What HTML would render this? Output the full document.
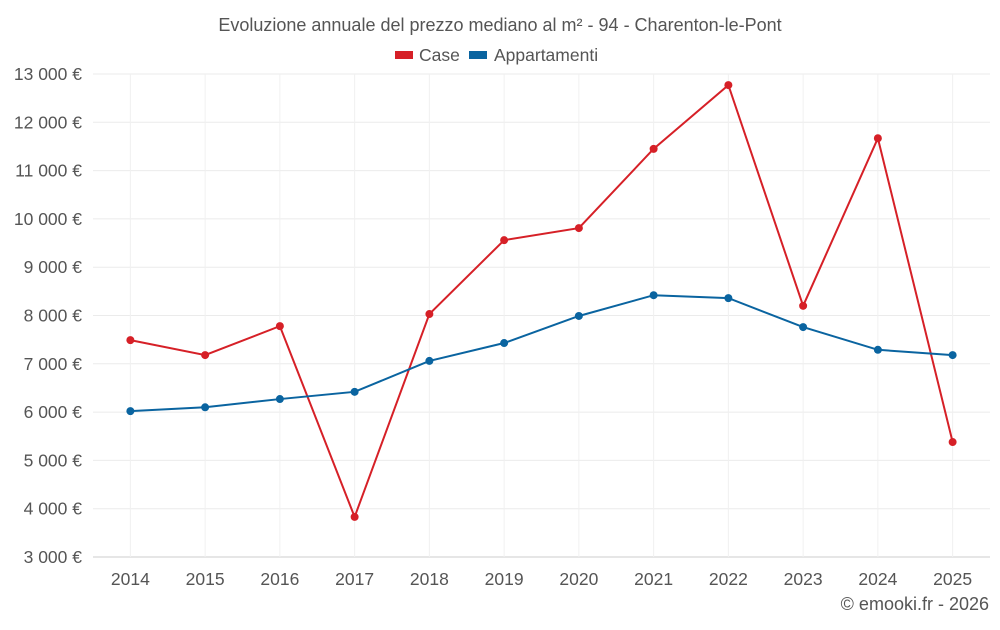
<!DOCTYPE html>
<html><head><meta charset="utf-8"><style>
body{margin:0;background:#fff;font-family:"Liberation Sans",sans-serif;}
svg text{font-family:"Liberation Sans",sans-serif;}
</style></head><body>
<svg id="chart" width="1000" height="625">
<text x="500" y="31" text-anchor="middle" font-size="18" fill="#555">Evoluzione annuale del prezzo mediano al m² - 94 - Charenton-le-Pont</text>
<g>
<g><rect x="395" y="51" width="18" height="8" fill="#d62027"/><text x="419" y="61" font-size="17.5" fill="#555">Case</text></g>
<g><rect x="469" y="51" width="18" height="8" fill="#0a64a0"/><text x="494" y="61" font-size="17.5" fill="#555">Appartamenti</text></g>
</g>
<g id="grid"></g>
<g id="axes"></g>
<g id="series"></g>
<text x="989" y="610" text-anchor="end" font-size="18" fill="#555">© emooki.fr - 2026</text>
</svg>
<script>
const years=["2014","2015","2016","2017","2018","2019","2020","2021","2022","2023","2024","2025"];
const caseValues=[7490,7180,7780,3830,8030,9560,9810,11450,12770,8200,11670,5380];
const apptValues=[6020,6100,6270,6420,7060,7430,7990,8420,8360,7760,7290,7180];
const yTicks=[3000,4000,5000,6000,7000,8000,9000,10000,11000,12000,13000];
const NS="http://www.w3.org/2000/svg";
const L=93,R=990,T=74,B=557,yMin=3000,yMax=13000;
const step=(R-L)/years.length;
const x=i=>L+step*(i+0.5);
const y=v=>B-(v-yMin)/(yMax-yMin)*(B-T);
function mk(tag,attrs,parent){const e=document.createElementNS(NS,tag);for(const k in attrs)e.setAttribute(k,attrs[k]);parent.appendChild(e);return e;}
const grid=document.getElementById('grid'),axes=document.getElementById('axes'),series=document.getElementById('series');
yTicks.forEach(t=>{
 const l=mk('line',{x1:L,x2:R,y1:y(t),y2:y(t),stroke:t===yMin?'#ccc':'#ebebeb'},grid);
 
 
 const tx=mk('text',{x:82,y:y(t)+6,'text-anchor':'end','font-size':17.5,fill:'#555'},axes);
 tx.textContent=t.toLocaleString('fr-FR').replace(/\u202f|\u00a0/g,' ')+' €';
 
 
});
years.forEach((yr,i)=>{
 const l=mk('line',{x1:x(i),x2:x(i),y1:T,y2:B,stroke:'#f0f0f0'},grid);
 
 
 const tx=mk('text',{x:x(i),y:585,'text-anchor':'middle','font-size':17.5,fill:'#555'},axes);
 tx.textContent=yr;
 
 
});
function draw(vals,color,name){
 const p=mk('polyline',{points:vals.map((v,i)=>x(i)+','+y(v)).join(' '),fill:'none',stroke:color,'stroke-width':2},series);
 
 
 vals.forEach((v,i)=>{
  const c=mk('circle',{cx:x(i),cy:y(v),r:4,fill:color},series);
  
  
 });
}
draw(caseValues,'#d62027','case');
draw(apptValues,'#0a64a0','appartamenti');
</script>
</body></html>
